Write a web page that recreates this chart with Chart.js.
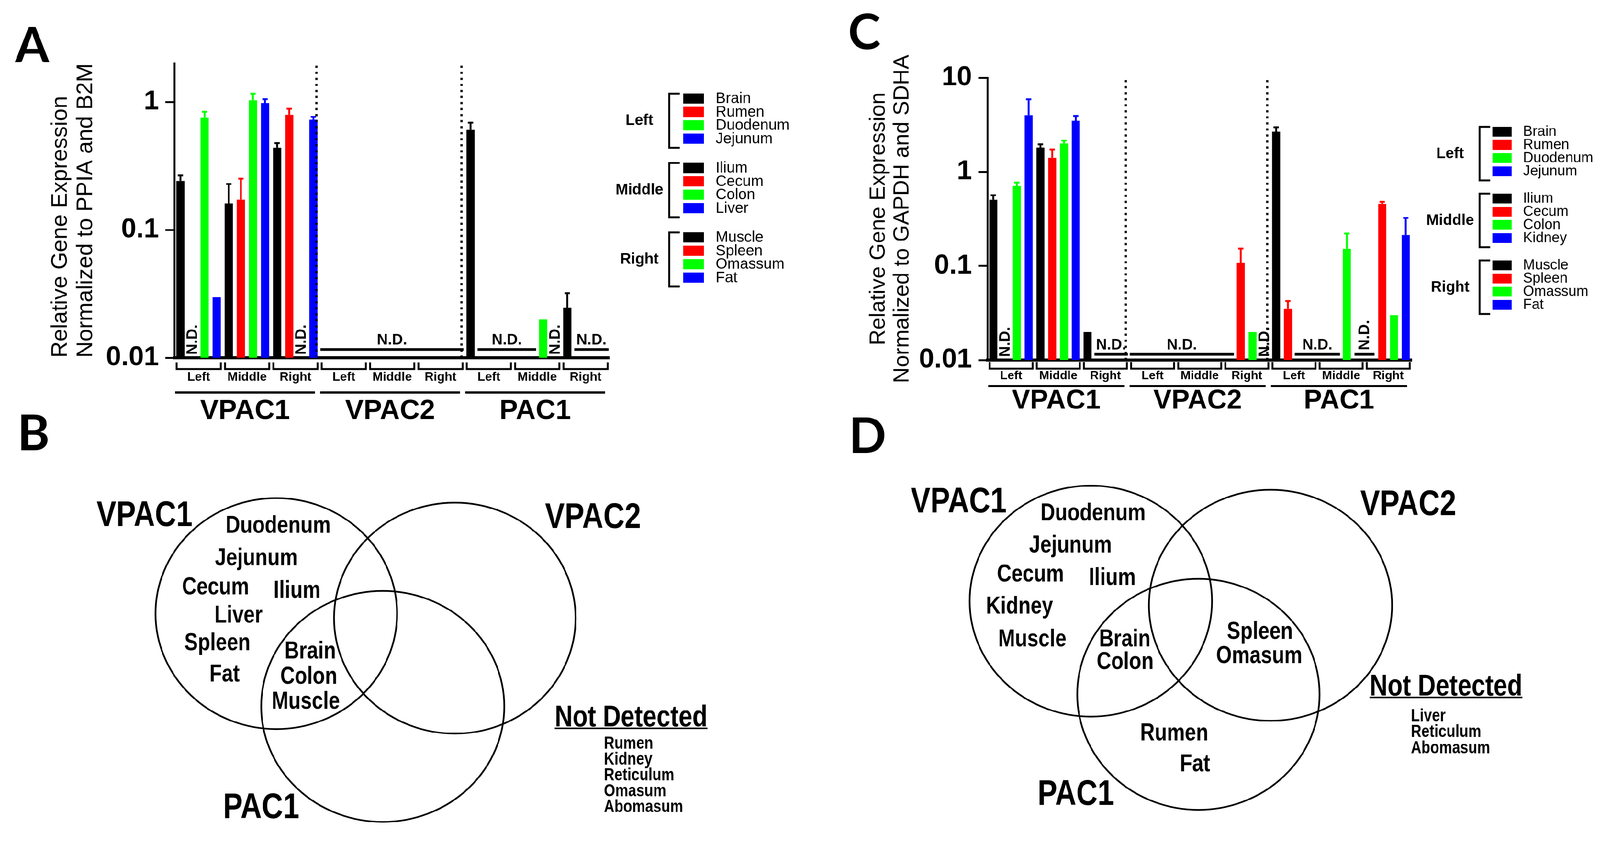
<!DOCTYPE html>
<html>
<head>
<meta charset="utf-8">
<script src="https://cdn.jsdelivr.net/npm/chart.js@4.4.0/dist/chart.umd.min.js"></script>
<style>
  html, body { margin: 0; background: #fff; overflow: hidden; }
  #page { position: absolute; left: 0; top: 0; width: 4239px; height: 2220px; transform-origin: 0 0; background: #fff; }
  .panel { position: absolute; }
</style>
</head>
<body>
<div id="page">
  <div class="panel" style="left:0;top:0"><canvas id="chartA"></canvas></div>
  <div class="panel" style="left:2120px;top:0"><canvas id="chartC"></canvas></div>
  <div class="panel" style="left:0;top:1080px"><canvas id="vennB"></canvas></div>
  <div class="panel" style="left:2120px;top:1080px"><canvas id="vennD"></canvas></div>
</div>
<script>
// fit the 4239x2220 figure into whatever viewport we get
const page = document.getElementById('page')
const fit = Math.min(window.innerWidth / 4239, window.innerHeight / 2220)
if (fit < 0.999) page.style.transform = 'scale(' + fit + ')'

function sizeCanvas(id, w, h) {
  const c = document.getElementById(id)
  c.width = w; c.height = h
  c.style.width = w + 'px'; c.style.height = h + 'px'
  return c
}

Chart.defaults.font.family = "'Liberation Sans', Arial, sans-serif"
Chart.defaults.color = '#000'
Chart.defaults.animation = false

// ---- data ----
const genes = ['VPAC1', 'VPAC2', 'PAC1']
const regions = ['Left', 'Middle', 'Right']
const barColors = ['#000000', '#ff0000', '#00ff00', '#0000ff']

const tissuesA = ['Brain', 'Rumen', 'Duodenum', 'Jejunum', 'Ilium', 'Cecum', 'Colon', 'Liver', 'Muscle', 'Spleen', 'Omassum', 'Fat']
const tissuesC = ['Brain', 'Rumen', 'Duodenum', 'Jejunum', 'Ilium', 'Cecum', 'Colon', 'Kidney', 'Muscle', 'Spleen', 'Omassum', 'Fat']

const yTicksA = [0.01, 0.1, 1]
const yTicksC = [0.01, 0.1, 1, 10]

// panel A - normalized to PPIA and B2M (null = not detected)
const vpac1A    = [0.241, null, 0.751, 0.0297, 0.161, 0.172, 1.03, 0.98, 0.438, 0.793, null, 0.726]
const vpac1AErr = [0.266, null, 0.837, null,   0.228, 0.251, 1.16, 1.05, 0.476, 0.884, null, 0.764]
const vpac2A    = [null, null, null, null, null, null, null, null, null, null, null, null]
const vpac2AErr = [null, null, null, null, null, null, null, null, null, null, null, null]
const pac1A     = [0.604, null, null, null, null, null, 0.0199, null, 0.0246, null, null, null]
const pac1AErr  = [0.688, null, null, null, null, null, null,   null, 0.032,  null, null, null]

// panel C - normalized to GAPDH and SDHA
const vpac1C    = [0.504, null, 0.706, 4.0, 1.81, 1.41, 2.0,  3.49, 0.0198, null, null, null]
const vpac1CErr = [0.564, null, 0.769, 5.9, 1.96, 1.73, 2.15, 3.93, null,   null, null, null]
const vpac2C    = [null, null, null, null, null, null, null, null, null, 0.108, 0.0198, null]
const vpac2CErr = [null, null, null, null, null, null, null, null, null, 0.153, null,   null]
const pac1C     = [2.67, 0.0349, null, null, null, null, 0.152, null, null, 0.456, 0.030, 0.213]
const pac1CErr  = [2.98, 0.0423, null, null, null, null, 0.221, null, null, 0.48,  null,  0.324]

// not detected marks, bar index ranges over the 36 bars
const ndA = [
  { from: 1, to: 1, style: 'v' },
  { from: 10, to: 10, style: 'v' },
  { from: 12, to: 23, style: 'h' },
  { from: 25, to: 29, style: 'h' },
  { from: 31, to: 31, style: 'v' },
  { from: 33, to: 35, style: 'h' }
]
const ndC = [
  { from: 1, to: 1, style: 'v' },
  { from: 9, to: 11, style: 'h' },
  { from: 12, to: 20, style: 'h' },
  { from: 23, to: 23, style: 'v' },
  { from: 26, to: 29, style: 'h' },
  { from: 31, to: 32, style: 'vl' }
]

// venn memberships
const vennSets = ['VPAC1', 'VPAC2', 'PAC1']
const vennB_members = ['Duodenum', 'Jejunum', 'Cecum', 'Ilium', 'Liver', 'Spleen', 'Fat', 'Brain', 'Colon', 'Muscle']
const vennB_notDetected = ['Rumen', 'Kidney', 'Reticulum', 'Omasum', 'Abomasum']
const vennD_members = ['Duodenum', 'Jejunum', 'Cecum', 'Ilium', 'Kidney', 'Muscle', 'Brain', 'Colon', 'Spleen', 'Omasum', 'Rumen', 'Fat']
const vennD_notDetected = ['Liver', 'Reticulum', 'Abomasum']

// ---- drawing helpers ----
const sans = "'Liberation Sans', Arial, sans-serif"
const letterFont = "Lato, 'Open Sans', sans-serif"

function line(ctx, x0, y0, x1, y1) {
  ctx.beginPath(); ctx.moveTo(x0, y0); ctx.lineTo(x1, y1); ctx.stroke()
}

// no narrow face installed: squeeze the bold face like Arial Narrow does
function narrowText(ctx, text, x, y) {
  ctx.save()
  ctx.translate(x, y)
  ctx.scale(0.82, 1)
  ctx.fillText(text, 0, 0)
  ctx.restore()
}

function barDecor(p) {
  return {
    id: 'decor',
    afterDatasetsDraw(chart) {
      const ctx = chart.ctx, x = chart.scales.x, y = chart.scales.y, area = chart.chartArea
      const meta = chart.getDatasetMeta(0)
      const step = x.getPixelForValue(1) - x.getPixelForValue(0)
      ctx.save()
      ctx.lineCap = 'butt'

      // error bars (upper only)
      p.errs.forEach((e, i) => {
        if (e == null) return
        const bar = meta.data[i]
        const top = y.getPixelForValue(e)
        ctx.strokeStyle = barColors[i % 4]
        ctx.lineWidth = 5
        line(ctx, bar.x, bar.y, bar.x, top)
        line(ctx, bar.x - 7, top, bar.x + 7, top)
      })

      // dotted separators between genes
      ctx.strokeStyle = '#000'
      ctx.lineWidth = 6
      ctx.setLineDash([6, 10])
      ;[12, 24].forEach(k => {
        const xb = (x.getPixelForValue(k - 1) + x.getPixelForValue(k)) / 2 - p.sepShift
        line(ctx, xb, area.top + 6, xb, area.bottom - 4)
      })
      ctx.setLineDash([])

      // N.D. marks
      ctx.fillStyle = '#000'
      ctx.font = 'bold 40px ' + sans
      p.nd.forEach(n => {
        const x0 = x.getPixelForValue(n.from), x1 = x.getPixelForValue(n.to)
        const ly = area.bottom - p.ndLine
        ctx.lineWidth = 7
        if (n.style === 'h') {
          line(ctx, x0 - step * 0.42, ly, x1 + step * 0.42, ly)
          ctx.textAlign = 'center'; ctx.textBaseline = 'alphabetic'
          ctx.fillText('N.D.', (x0 + x1) / 2, ly - 13)
        } else {
          const cx = (x0 + x1) / 2
          let base = area.bottom - 8
          if (n.style === 'vl') {
            line(ctx, cx - step * 0.85, ly, cx + step * 0.85, ly)
            base = ly - 11
          }
          ctx.save()
          ctx.translate(cx, base)
          ctx.rotate(-Math.PI / 2)
          ctx.textAlign = 'left'; ctx.textBaseline = 'middle'
          ctx.fillText('N.D.', 0, 1)
          ctx.restore()
        }
      })
      ctx.restore()
    },
    afterDraw(chart) {
      const ctx = chart.ctx, x = chart.scales.x
      const step = x.getPixelForValue(1) - x.getPixelForValue(0)
      ctx.save()
      ctx.strokeStyle = '#000'
      ctx.fillStyle = '#000'

      // region brackets and gene groups under the axis
      genes.forEach((g, gi) => {
        regions.forEach((r, ri) => {
          const i0 = gi * 12 + ri * 4
          const a = x.getPixelForValue(i0) - step / 2 + 6
          const b = x.getPixelForValue(i0 + 3) + step / 2 - 5
          ctx.lineWidth = 5
          ctx.beginPath()
          ctx.moveTo(a, p.bracketY - 18); ctx.lineTo(a, p.bracketY)
          ctx.lineTo(b, p.bracketY); ctx.lineTo(b, p.bracketY - 18)
          ctx.stroke()
          ctx.font = 'bold ' + p.regionSize + 'px ' + sans
          ctx.textAlign = 'center'; ctx.textBaseline = 'middle'
          ctx.fillText(r, (a + b) / 2, p.regionY)
        })
        const s0 = x.getPixelForValue(gi * 12) - step / 2
        const s1 = x.getPixelForValue(gi * 12 + 11) + step / 2
        ctx.lineWidth = 6
        line(ctx, s0 + 2, p.geneLineY, s1 - 12, p.geneLineY)
        ctx.font = 'bold ' + p.geneSize + 'px ' + sans
        ctx.textAlign = 'center'; ctx.textBaseline = 'middle'
        ctx.fillText(g, (s0 + s1) / 2 - 5, p.geneY)
      })

      // grouped legend
      regions.forEach((r, gi) => {
        const y0 = p.legY + gi * p.legGroup
        const yl = y0 + 3 * p.legRow
        ctx.lineWidth = 5
        ctx.beginPath()
        ctx.moveTo(p.brX + 28, y0 - 13); ctx.lineTo(p.brX, y0 - 13)
        ctx.lineTo(p.brX, yl + 24); ctx.lineTo(p.brX + 28, yl + 24)
        ctx.stroke()
        ctx.font = 'bold 40px ' + sans
        ctx.textAlign = 'center'; ctx.textBaseline = 'middle'
        ctx.fillText(r, p.labX, (y0 + yl) / 2 + 6)
        ctx.font = p.legSize + 'px ' + sans
        ctx.textAlign = 'left'
        for (let k = 0; k < 4; k++) {
          const yy = y0 + k * p.legRow
          ctx.fillStyle = barColors[k]
          ctx.fillRect(p.swX, yy - p.swH / 2, p.swW, p.swH)
          ctx.fillStyle = '#000'
          ctx.fillText(p.tissues[gi * 4 + k], p.txtX, yy + 1)
        }
      })

      // panel letter
      ctx.font = 'bold 130px ' + letterFont
      ctx.textAlign = 'left'; ctx.textBaseline = 'alphabetic'
      ctx.fillText(p.letter, p.letterX, p.letterY)
      ctx.restore()
    }
  }
}

function makeBarChart(id, w, h, d, p) {
  const values = d.values[0].concat(d.values[1], d.values[2])
  const labels = []
  genes.forEach(g => d.tissues.forEach(t => labels.push(g + ' ' + t)))
  p.errs = d.errs[0].concat(d.errs[1], d.errs[2])
  p.nd = d.nd
  p.tissues = d.tissues
  return new Chart(sizeCanvas(id, w, h), {
    type: 'bar',
    data: {
      labels: labels,
      datasets: [{
        data: values,
        backgroundColor: values.map((v, i) => barColors[i % 4]),
        borderWidth: 0,
        barPercentage: 0.68,
        categoryPercentage: 1
      }]
    },
    options: {
      responsive: false,
      events: [],
      layout: { padding: { left: p.padLeft, top: p.padTop, right: p.padRight, bottom: 0 } },
      plugins: { legend: { display: false }, tooltip: { enabled: false } },
      scales: {
        x: {
          type: 'category',
          ticks: { display: false },
          grid: { display: false },
          border: { display: true, color: '#000', width: 8 },
          afterFit: s => { s.height = p.xHeight }
        },
        y: {
          type: 'logarithmic',
          min: 0.01,
          max: d.yMax,
          afterBuildTicks: s => { s.ticks = d.yTicks.map(v => ({ value: v })) },
          ticks: {
            callback: v => String(v),
            font: { size: 72, weight: 'bold' },
            color: '#000',
            padding: 17
          },
          grid: { display: true, drawOnChartArea: false, drawTicks: true, tickLength: 24, tickWidth: 5, tickColor: '#000' },
          border: { display: true, color: '#000', width: 5 },
          title: {
            display: true,
            text: d.title,
            align: p.titleAlign,
            color: '#000',
            font: { size: p.titleSize, lineHeight: p.titleLH },
            padding: { top: p.titlePad, bottom: 0 }
          },
          afterFit: s => { s.width = p.yWidth }
        }
      }
    },
    plugins: [barDecor(p)]
  })
}

makeBarChart('chartA', 2120, 1150, {
  tissues: tissuesA,
  values: [vpac1A, vpac2A, pac1A],
  errs: [vpac1AErr, vpac2AErr, pac1AErr],
  nd: ndA,
  yMax: 2,
  yTicks: yTicksA,
  title: ['Relative Gene Expression', 'Normalized to PPIA and B2M']
}, {
  padLeft: 100, padTop: 168, padRight: 505, xHeight: 202, yWidth: 362,
  titleSize: 60, titleLH: 1.12, titlePad: 27, titleAlign: 'start',
  sepShift: 8, ndLine: 22,
  bracketY: 978, regionY: 1000, regionSize: 33, geneLineY: 1040, geneY: 1090, geneSize: 73,
  legY: 261, legRow: 35.5, legGroup: 184, brX: 1773, labX: 1694, swX: 1810, swW: 55, swH: 27, txtX: 1896, legSize: 40,
  letter: 'A', letterX: 40, letterY: 165
})

makeBarChart('chartC', 2119, 1150, {
  tissues: tissuesC,
  values: [vpac1C, vpac2C, pac1C],
  errs: [vpac1CErr, vpac2CErr, pac1CErr],
  nd: ndC,
  yMax: 10,
  yTicks: yTicksC,
  title: ['Relative Gene Expression', 'Normalized to GAPDH and SDHA']
}, {
  padLeft: 150, padTop: 206, padRight: 499, xHeight: 196, yWidth: 346,
  titleSize: 58, titleLH: 1.09, titlePad: 26, titleAlign: 'center',
  sepShift: 8, ndLine: 15,
  bracketY: 977, regionY: 996, regionSize: 32, geneLineY: 1023, geneY: 1063, geneSize: 72,
  legY: 349, legRow: 35, legGroup: 177, brX: 1800, labX: 1722, swX: 1834, swW: 51, swH: 26, txtX: 1915, legSize: 38,
  letter: 'C', letterX: 127, letterY: 130
})

// ---- venn diagrams ----
function vennDecor(v) {
  return {
    id: 'venn',
    afterDraw(chart) {
      const ctx = chart.ctx, x = chart.scales.x, y = chart.scales.y
      const X = a => x.getPixelForValue(a), Y = a => y.getPixelForValue(a)
      ctx.save()
      ctx.strokeStyle = '#000'
      ctx.fillStyle = '#000'
      ctx.lineWidth = 4.5
      v.circles.forEach(c => {
        ctx.beginPath()
        ctx.ellipse(X(c[0]), Y(c[1]), Math.abs(X(c[0] + c[2]) - X(c[0])), Math.abs(Y(c[1] + c[3]) - Y(c[1])), 0, 0, 2 * Math.PI)
        ctx.stroke()
      })
      ctx.textAlign = 'center'; ctx.textBaseline = 'middle'
      ctx.font = 'bold 95px ' + sans
      vennSets.forEach((s, i) => narrowText(ctx, s, X(v.setPos[i][0]), Y(v.setPos[i][1])))
      ctx.font = 'bold 65px ' + sans
      v.members.forEach(m => narrowText(ctx, m, X(v.memberPos[m][0]), Y(v.memberPos[m][1])))
      ctx.font = 'bold 80px ' + sans
      narrowText(ctx, 'Not Detected', X(v.ndPos[0]), Y(v.ndPos[1]))
      const w = ctx.measureText('Not Detected').width * 0.82
      ctx.lineWidth = 4
      line(ctx, X(v.ndPos[0]) - w / 2, Y(v.ndPos[1]) + 27, X(v.ndPos[0]) + w / 2, Y(v.ndPos[1]) + 27)
      ctx.font = 'bold 47px ' + sans
      ctx.textAlign = 'left'
      v.notDetected.forEach((t, i) => narrowText(ctx, t, X(v.listX), Y(v.listY + i * v.listStep)))
      ctx.font = 'bold 130px ' + letterFont
      ctx.textBaseline = 'alphabetic'
      ctx.fillText(v.letter, X(v.letterPos[0]), Y(v.letterPos[1]))
      ctx.restore()
    }
  }
}

function makeVenn(id, w, xMin, v) {
  return new Chart(sizeCanvas(id, w, 1140), {
    type: 'scatter',
    data: { datasets: [{ data: [] }] },
    options: {
      responsive: false,
      events: [],
      layout: { padding: 0 },
      plugins: { legend: { display: false }, tooltip: { enabled: false } },
      scales: {
        x: { type: 'linear', min: xMin, max: xMin + w, display: false },
        y: { type: 'linear', min: 1080, max: 2220, reverse: true, display: false }
      }
    },
    plugins: [vennDecor(v)]
  })
}

makeVenn('vennB', 2120, 0, {
  letter: 'B', letterPos: [46, 1193],
  circles: [[732, 1626, 320, 306], [1205, 1638, 320, 306], [1014, 1872, 322, 306]],
  setPos: [[383, 1368], [1571, 1373], [692, 2142]],
  members: vennB_members,
  memberPos: {
    Duodenum: [737, 1394], Jejunum: [679, 1480], Cecum: [571, 1557], Ilium: [787, 1566],
    Liver: [632, 1632], Spleen: [576, 1705], Fat: [595, 1788],
    Brain: [822, 1727], Colon: [818, 1794], Muscle: [810, 1860]
  },
  ndPos: [1672, 1903],
  notDetected: vennB_notDetected, listX: 1600, listY: 1971, listStep: 42
})

makeVenn('vennD', 2119, 2120, {
  letter: 'D', letterPos: [2249, 1200],
  circles: [[2890, 1593, 321, 306], [3366, 1604, 322, 306], [3175, 1840, 321, 306]],
  setPos: [[2540, 1332], [3731, 1339], [2850, 2107]],
  members: vennD_members,
  memberPos: {
    Duodenum: [2896, 1361], Jejunum: [2836, 1446], Cecum: [2730, 1523], Ilium: [2947, 1532],
    Kidney: [2701, 1608], Muscle: [2735, 1695], Brain: [2980, 1695], Colon: [2981, 1755],
    Spleen: [3338, 1675], Omasum: [3336, 1739], Rumen: [3111, 1944], Fat: [3166, 2026]
  },
  ndPos: [3831, 1821],
  notDetected: vennD_notDetected, listX: 3738, listY: 1898, listStep: 42.5
})
</script>
</body>
</html>
